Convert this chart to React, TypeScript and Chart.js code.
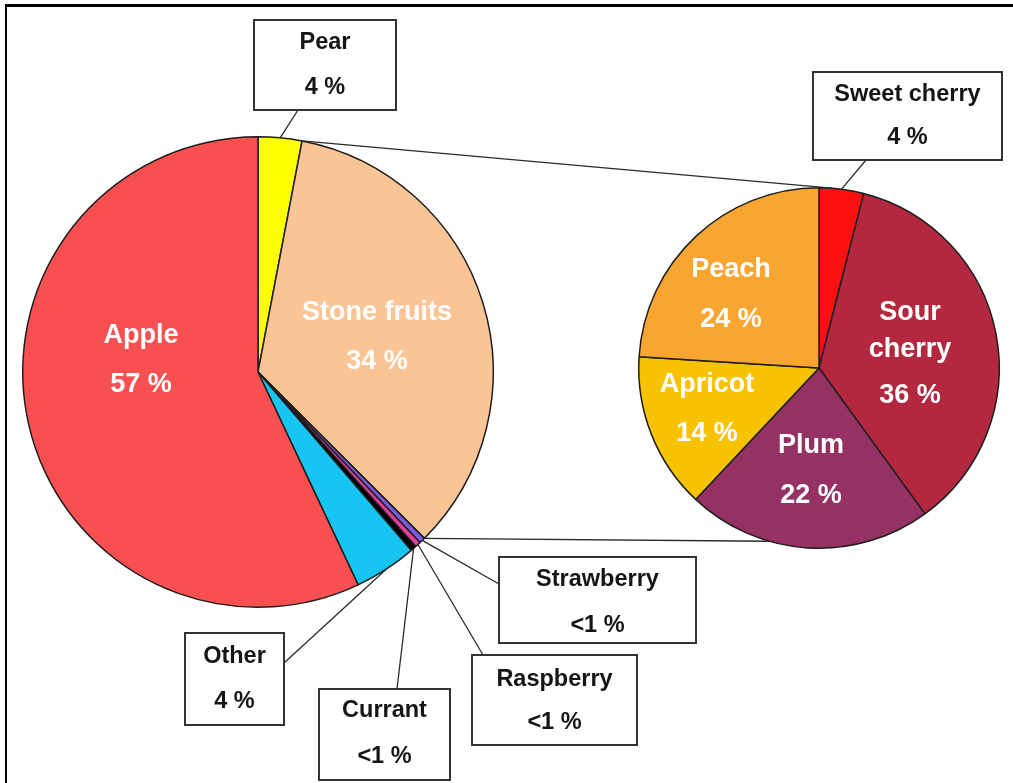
import React, { useEffect, useRef } from "react";
import { Chart, registerables } from "chart.js";

Chart.register(...registerables);

// ---------- data ----------
const mainCategories = ["Pear", "Stone fruits", "Strawberry", "Raspberry", "Currant", "Other", "Apple"];
const mainValues = [3.0, 34.5, 0.4, 0.4, 0.4, 4.3, 57.0];
const mainPercentLabels = ["4 %", "34 %", "<1 %", "<1 %", "<1 %", "4 %", "57 %"];
const mainColors = ["#FFFF00", "#FBC495", "#7B5BE8", "#E23C98", "#000000", "#17C5F2", "#F85050"];

const stoneCategories = ["Sweet cherry", "Sour cherry", "Plum", "Apricot", "Peach"];
const stoneValues = [4, 36, 22, 14, 24];
const stonePercentLabels = ["4 %", "36 %", "22 %", "14 %", "24 %"];
const stoneColors = ["#FF1010", "#B3283F", "#953163", "#F7C200", "#F8A532"];

// ---------- layout (positions only) ----------
const W = 1013;
const H = 783;
const SPLIT_INDEX = 1; // "Stone fruits" is split into the second pie

type Inside = { i: number; x: number; ys: number[]; split?: boolean };
type Callout = { i: number; box: [number, number, number, number]; ys: number[]; end: [number, number] };

const mainInside: Inside[] = [
  { i: 6, x: 141, ys: [336, 385] },
  { i: 1, x: 377, ys: [313, 362] },
];
const stoneInside: Inside[] = [
  { i: 4, x: 731, ys: [270, 320] },
  { i: 1, x: 910, ys: [313, 350, 396], split: true },
  { i: 3, x: 707, ys: [385, 434] },
  { i: 2, x: 811, ys: [446, 496] },
];
const mainCallouts: Callout[] = [
  { i: 0, box: [254, 20, 142, 90], ys: [43, 88], end: [298, 110] },
  { i: 2, box: [499, 557, 197, 86], ys: [580, 626], end: [499, 584] },
  { i: 3, box: [472, 655, 165, 90], ys: [680, 723], end: [483, 655] },
  { i: 4, box: [319, 689, 131, 91], ys: [711, 757], end: [397, 689] },
  { i: 5, box: [185, 633, 99, 92], ys: [657, 702], end: [284, 663] },
];
const stoneCallouts: Callout[] = [
  { i: 0, box: [813, 72, 189, 88], ys: [95, 138], end: [866, 160] },
];

const INSIDE_FONT = 'bold 27px "Liberation Sans", Arial, sans-serif';
const CALLOUT_FONT = 'bold 23.5px "Liberation Sans", Arial, sans-serif';
const LINE_COLOR = "#2a2a2a";

function drawInside(ctx: CanvasRenderingContext2D, items: Inside[], cats: string[], pcts: string[]) {
  ctx.save();
  ctx.font = INSIDE_FONT;
  ctx.fillStyle = "#ffffff";
  ctx.textAlign = "center";
  ctx.textBaseline = "middle";
  items.forEach((it) => {
    const name = cats[it.i];
    const lines = it.split ? [...name.split(" "), pcts[it.i]] : [name, pcts[it.i]];
    lines.forEach((t, k) => ctx.fillText(t, it.x, it.ys[k]));
  });
  ctx.restore();
}

function drawCallouts(chart: any, items: Callout[], cats: string[], pcts: string[]) {
  const ctx: CanvasRenderingContext2D = chart.ctx;
  const meta = chart.getDatasetMeta(0);
  ctx.save();
  items.forEach((it) => {
    const arc: any = meta.data[it.i];
    const mid = (arc.startAngle + arc.endAngle) / 2;
    const sx = arc.x + arc.outerRadius * Math.cos(mid);
    const sy = arc.y + arc.outerRadius * Math.sin(mid);
    ctx.strokeStyle = LINE_COLOR;
    ctx.lineWidth = 1.3;
    ctx.beginPath();
    ctx.moveTo(sx, sy);
    ctx.lineTo(it.end[0], it.end[1]);
    ctx.stroke();
    const [bx, by, bw, bh] = it.box;
    ctx.fillStyle = "#ffffff";
    ctx.fillRect(bx, by, bw, bh);
    ctx.lineWidth = 2;
    ctx.strokeStyle = "#333333";
    ctx.strokeRect(bx, by, bw, bh);
    ctx.font = CALLOUT_FONT;
    ctx.fillStyle = "#151515";
    ctx.textAlign = "center";
    ctx.textBaseline = "middle";
    ctx.fillText(cats[it.i], bx + bw / 2, it.ys[0]);
    ctx.fillText(pcts[it.i], bx + bw / 2, it.ys[1]);
  });
  ctx.restore();
}

export default function App() {
  const ref1 = useRef<HTMLCanvasElement | null>(null);
  const ref2 = useRef<HTMLCanvasElement | null>(null);

  useEffect(() => {
    const mainPlugin = {
      id: "mainLabels",
      afterDraw(chart: any) {
        drawInside(chart.ctx, mainInside, mainCategories, mainPercentLabels);
        drawCallouts(chart, mainCallouts, mainCategories, mainPercentLabels);
      },
    };
    const c1 = new Chart(ref1.current as HTMLCanvasElement, {
      type: "pie",
      data: {
        labels: mainCategories,
        datasets: [{ data: mainValues, backgroundColor: mainColors, borderColor: "#1e1e1e", borderWidth: 1.5 }],
      },
      options: {
        responsive: false,
        maintainAspectRatio: false,
        animation: false,
        events: [],
        layout: { padding: { left: 22, right: W - 494, top: 136, bottom: H - 608 } },
        plugins: { legend: { display: false }, tooltip: { enabled: false } },
      },
      plugins: [mainPlugin],
    });

    const stonePlugin = {
      id: "stoneLabels",
      afterDraw(chart: any) {
        const ctx: CanvasRenderingContext2D = chart.ctx;
        // connector lines from the split slice to the secondary pie
        const a: any = c1.getDatasetMeta(0).data[SPLIT_INDEX];
        const b: any = chart.getDatasetMeta(0).data[0];
        const r1 = a.outerRadius;
        const r2 = b.outerRadius;
        const p1 = [a.x + r1 * Math.cos(a.startAngle), a.y + r1 * Math.sin(a.startAngle)];
        const p2 = [a.x + r1 * Math.cos(a.endAngle), a.y + r1 * Math.sin(a.endAngle)];
        const tA = -Math.PI / 2 + (4 * Math.PI) / 180;
        const bA = Math.PI / 2 + (16 * Math.PI) / 180;
        const q1 = [b.x + r2 * Math.cos(tA), b.y + r2 * Math.sin(tA)];
        const q2 = [b.x + r2 * Math.cos(bA), b.y + r2 * Math.sin(bA)];
        ctx.save();
        ctx.strokeStyle = LINE_COLOR;
        ctx.lineWidth = 1.3;
        ctx.beginPath();
        ctx.moveTo(p1[0], p1[1]);
        ctx.lineTo(q1[0], q1[1]);
        ctx.moveTo(p2[0], p2[1]);
        ctx.lineTo(q2[0], q2[1]);
        ctx.stroke();
        ctx.restore();
        drawInside(ctx, stoneInside, stoneCategories, stonePercentLabels);
        drawCallouts(chart, stoneCallouts, stoneCategories, stonePercentLabels);
      },
    };
    const c2 = new Chart(ref2.current as HTMLCanvasElement, {
      type: "pie",
      data: {
        labels: stoneCategories,
        datasets: [{ data: stoneValues, backgroundColor: stoneColors, borderColor: "#1e1e1e", borderWidth: 1.5 }],
      },
      options: {
        responsive: false,
        maintainAspectRatio: false,
        animation: false,
        events: [],
        layout: { padding: { left: 638, right: W - 1000, top: 187, bottom: H - 549 } },
        plugins: { legend: { display: false }, tooltip: { enabled: false } },
      },
      plugins: [stonePlugin],
    });

    return () => {
      c2.destroy();
      c1.destroy();
    };
  }, []);

  const canvasStyle: React.CSSProperties = {
    position: "absolute",
    left: 0,
    top: 0,
    width: W,
    height: H,
  };

  return (
    <div
      style={{
        position: "absolute",
        left: 0,
        top: 0,
        width: W,
        height: H,
        overflow: "hidden",
        background: "#ffffff",
      }}
    >
      <div
        style={{
          position: "absolute",
          left: 5,
          top: 4,
          width: W + 20,
          height: H + 20,
          borderLeft: "2px solid #000",
          borderTop: "3px solid #000",
        }}
      />
      <canvas ref={ref1} width={W} height={H} style={canvasStyle} />
      <canvas ref={ref2} width={W} height={H} style={canvasStyle} />
    </div>
  );
}
